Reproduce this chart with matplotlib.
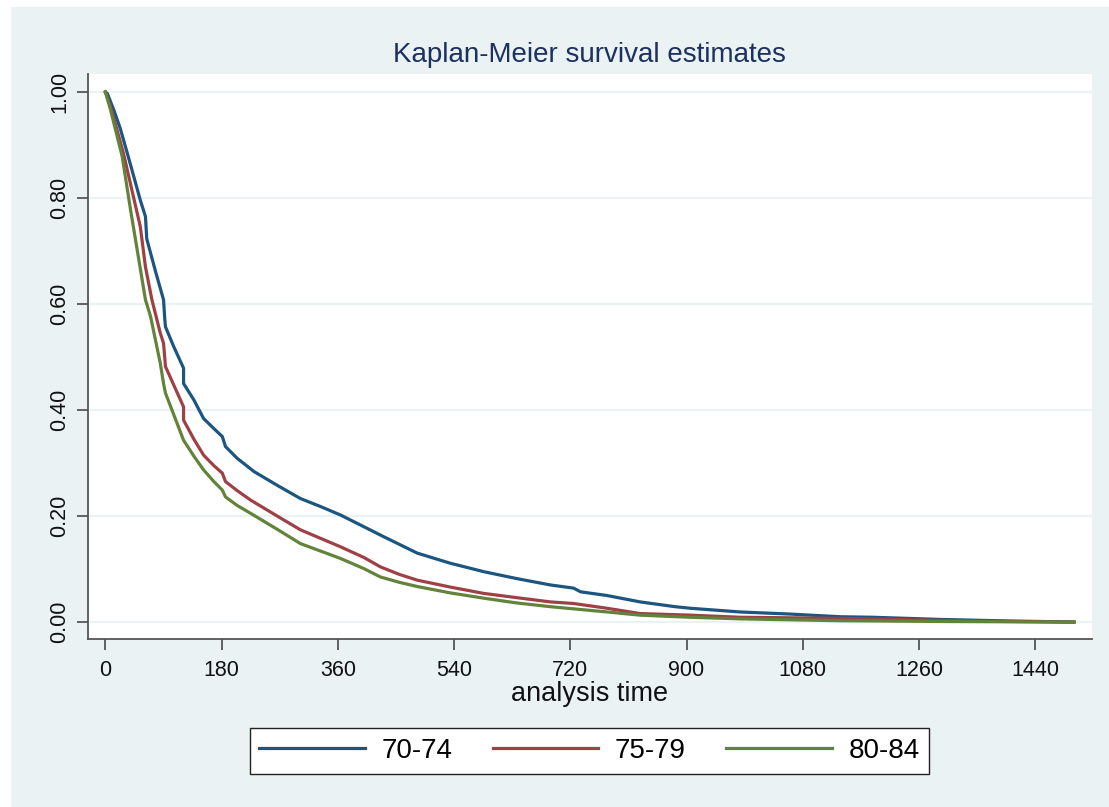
import matplotlib
matplotlib.use("Agg")
import matplotlib.pyplot as plt
from matplotlib.patches import Rectangle

plt.rcParams['font.family'] = ['Liberation Sans', 'DejaVu Sans']

# Kaplan-Meier survival estimates by age group (time, survival)
t_7074 = [0, 3, 13, 23, 34, 44, 54, 62, 64, 77, 90, 92, 93, 106, 121, 121, 137, 152, 168,
          181, 186, 204, 230, 266, 302, 333, 364, 400, 431, 483, 534, 586, 637, 689, 725,
          736, 777, 828, 882, 906, 983, 1061, 1138, 1189, 1291, 1400, 1500]
s_7074 = [1.000, 0.997, 0.966, 0.931, 0.884, 0.840, 0.796, 0.765, 0.723, 0.664, 0.608, 0.570,
          0.557, 0.519, 0.479, 0.450, 0.419, 0.384, 0.365, 0.350, 0.331, 0.309, 0.284, 0.258,
          0.233, 0.218, 0.202, 0.180, 0.161, 0.130, 0.111, 0.095, 0.082, 0.070, 0.064, 0.057,
          0.050, 0.038, 0.029, 0.026, 0.019, 0.015, 0.010, 0.009, 0.005, 0.002, 0.000]

t_7579 = [0, 8, 28, 41, 54, 62, 72, 85, 90, 93, 121, 121, 137, 152, 168, 181, 186, 204, 225,
          266, 302, 333, 364, 400, 426, 455, 483, 534, 586, 637, 689, 725, 777, 828, 906, 983,
          1138, 1260, 1400, 1500]
s_7579 = [1.000, 0.972, 0.884, 0.815, 0.746, 0.670, 0.608, 0.545, 0.526, 0.482, 0.406, 0.381,
          0.345, 0.315, 0.295, 0.281, 0.265, 0.248, 0.230, 0.200, 0.174, 0.158, 0.142, 0.122,
          0.104, 0.090, 0.079, 0.066, 0.054, 0.046, 0.038, 0.035, 0.026, 0.016, 0.013, 0.009,
          0.007, 0.004, 0.001, 0.000]

t_8084 = [0, 8, 26, 39, 62, 70, 85, 90, 93, 121, 137, 152, 168, 181, 186, 204, 225, 266, 302,
          333, 364, 400, 426, 455, 483, 534, 586, 637, 689, 777, 828, 906, 983, 1138, 1300, 1500]
s_8084 = [1.000, 0.966, 0.878, 0.777, 0.608, 0.576, 0.488, 0.450, 0.432, 0.343, 0.313, 0.287,
          0.265, 0.249, 0.236, 0.220, 0.205, 0.175, 0.148, 0.134, 0.120, 0.101, 0.085, 0.075,
          0.067, 0.055, 0.045, 0.036, 0.029, 0.019, 0.013, 0.009, 0.006, 0.0025, 0.001, 0.000]

group_labels = ["70-74", "75-79", "80-84"]
x_ticks = [0, 180, 360, 540, 720, 900, 1080, 1260, 1440]
y_ticks = [0.0, 0.2, 0.4, 0.6, 0.8, 1.0]

W, H = 1109, 807
fig = plt.figure(figsize=(W / 100, H / 100), dpi=100, facecolor="white")
bg = "#eaf2f3"
fig.patches.append(Rectangle((11 / W, 0), 1 - 11 / W, 1 - 7 / H, transform=fig.transFigure,
                             facecolor=bg, edgecolor="none", zorder=-10))

ax = fig.add_axes([88 / W, 1 - 639 / H, (1092 - 88) / W, (639 - 74) / H])
ax.set_facecolor("white")

colors = ["#1c5580", "#9e4146", "#62833a"]
series = [(t_7074, s_7074), (t_7579, s_7579), (t_8084, s_8084)]
for (t, s), c, lab in zip(series, colors, group_labels):
    ax.plot(t, s, color=c, lw=2.3, label=lab, solid_joinstyle="round", zorder=3)

ax.set_xlim(-27, 1528)
ax.set_ylim(-0.032, 1.034)
ax.set_xticks(x_ticks)
ax.set_xticklabels([str(v) for v in x_ticks])
ax.set_yticks(y_ticks)
ax.set_yticklabels([f"{v:.2f}" for v in y_ticks], rotation=90, va="center")

ax.grid(axis="y", color=bg, lw=1.6, zorder=0)
ax.set_axisbelow(True)

for side in ["top", "right"]:
    ax.spines[side].set_visible(False)
for side in ["left", "bottom"]:
    ax.spines[side].set_color("#555555")
    ax.spines[side].set_linewidth(1.3)
ax.tick_params(axis="both", length=8, width=1.3, color="#555555", labelsize=15.5,
               labelcolor="#111111")
ax.tick_params(axis="x", pad=7)
ax.tick_params(axis="y", pad=5)

ax.set_xlabel("analysis time", fontsize=19.5, color="#111111", labelpad=0)

fig.text(589.5 / W, 1 - 55 / H, "Kaplan-Meier survival estimates", ha="center", va="center",
         fontsize=20, color="#1c3160")

leg = fig.legend(loc="center", bbox_to_anchor=(589.5 / W, 1 - 751 / H), ncol=3,
                 fontsize=20, frameon=True, fancybox=False, handlelength=3.8,
                 handletextpad=0.6, columnspacing=1.45, borderpad=0.35,
                 edgecolor="#222222", facecolor="white", framealpha=1)
leg.get_frame().set_linewidth(1.0)
for line in leg.get_lines():
    line.set_linewidth(2.3)

fig.savefig("out.png", dpi=100, facecolor=fig.get_facecolor())
